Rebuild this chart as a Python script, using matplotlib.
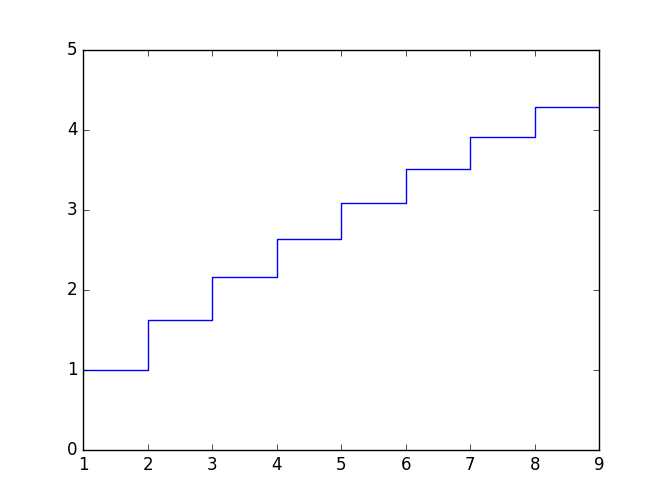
import matplotlib
matplotlib.use("Agg")
import matplotlib.pyplot as plt

plt.style.use('classic')

x = [1, 2, 3, 4, 5, 6, 7, 8, 9]
y = [1.0, 1.62, 2.16, 2.64, 3.09, 3.51, 3.91, 4.29, 4.29]

fig = plt.figure(figsize=(6.66, 5.0), dpi=100)
ax = fig.add_subplot(111)
ax.step(x, y, where='post', color='b')
ax.set_xlim(1, 9)
ax.set_ylim(0, 5)
ax.set_yticks([0, 1, 2, 3, 4, 5])
fig.savefig("out.png", dpi=100)
